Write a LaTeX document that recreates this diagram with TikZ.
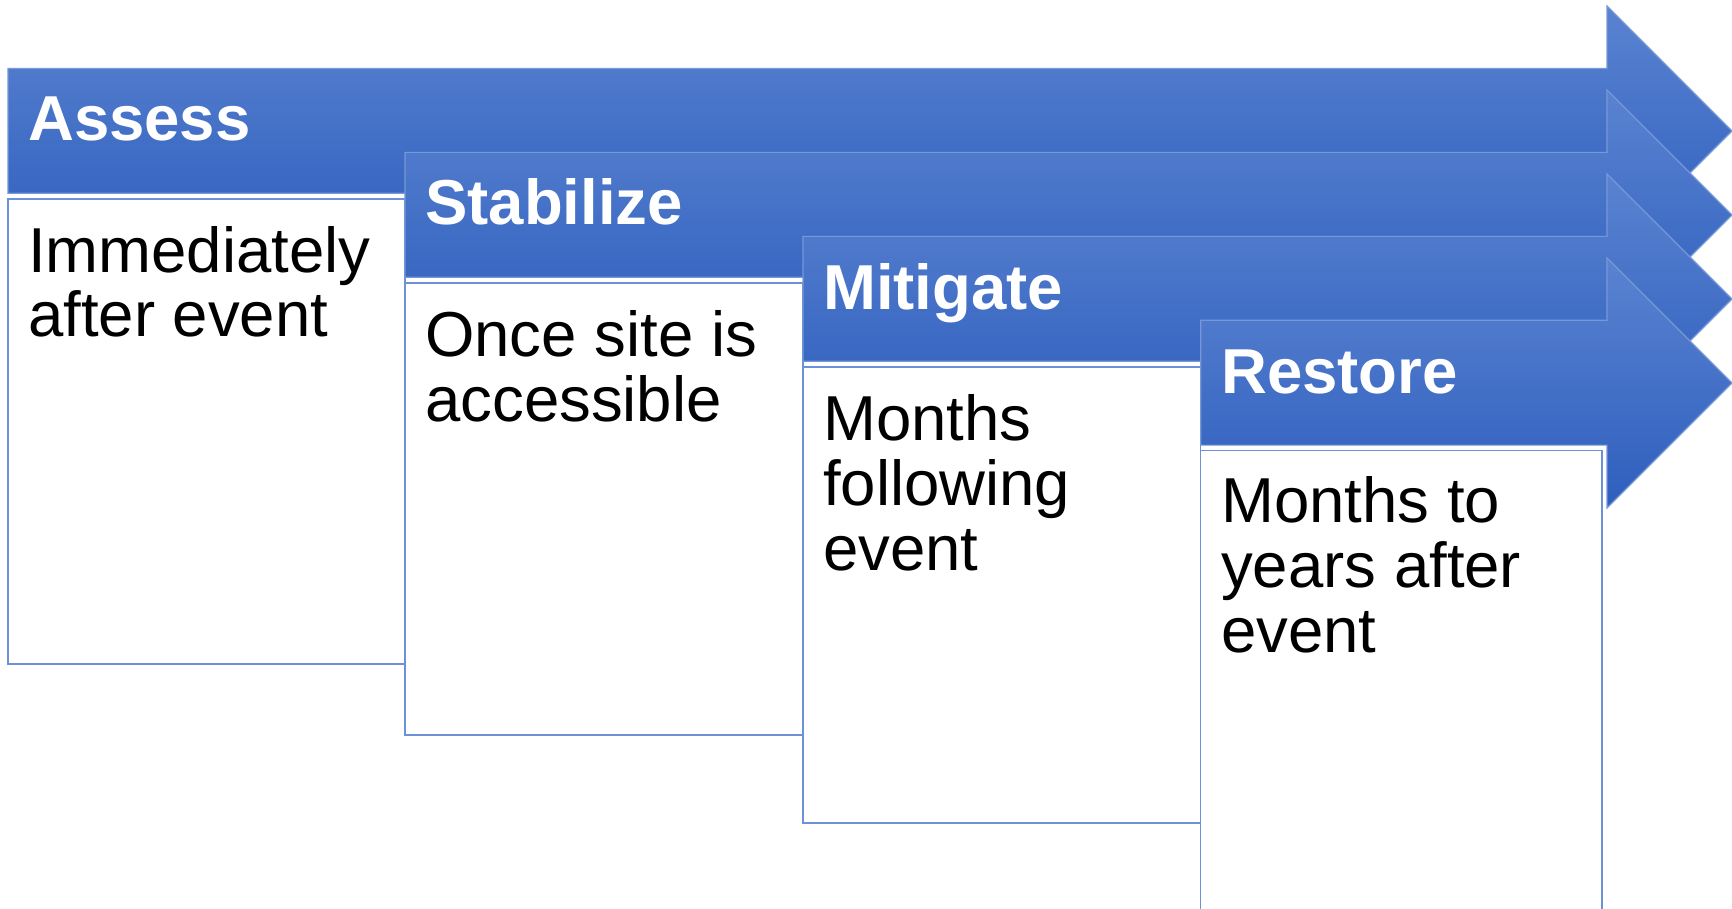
\documentclass[tikz,border=0pt]{standalone}
\usepackage{fontspec}
\setmainfont{Liberation Sans}
\definecolor{arrtop}{RGB}{90,131,209}
\definecolor{arrbot}{RGB}{46,94,189}
\definecolor{arredge}{RGB}{118,152,214}
\definecolor{boxedge}{RGB}{108,145,216}
\tikzset{
  phase/.style={top color=arrtop, bottom color=arrbot, draw=arredge, line width=1.2pt},
  detail/.style={fill=white, draw=boxedge, line width=1.3pt},
  headtxt/.style={anchor=base west, inner sep=0pt, text=white, font=\fontsize{63.5}{65}\selectfont\bfseries},
  bodytxt/.style={anchor=base west, inner sep=0pt, text=black, align=left, font=\fontsize{63.5}{65}\selectfont}
}
\begin{document}
\begin{tikzpicture}[x=1pt,y=-1pt]
\useasboundingbox (0,0) rectangle (1732,909);
% Assess
\path[phase] (8,68.5) -- (1607,68.5) -- (1607,6) -- (1732,131) -- (1607,256) -- (1607,193.3) -- (8,193.3) -- cycle;
\path[detail] (8,199) rectangle (405,664);
\node[headtxt] (h1) at (28,141) {Assess};
\node[bodytxt] (b1) at (28,337) {Immediately\\after event};
% Stabilize
\path[phase] (405,152.4) -- (1607,152.4) -- (1607,90) -- (1732,215) -- (1607,340) -- (1607,277.2) -- (405,277.2) -- cycle;
\path[detail] (405,283) rectangle (803,735);
\node[headtxt] (h2) at (425,225) {Stabilize};
\node[bodytxt] (b2) at (425,421) {Once site is\\accessible};
% Mitigate
\path[phase] (803,236.4) -- (1607,236.4) -- (1607,174) -- (1732,299) -- (1607,424) -- (1607,361.2) -- (803,361.2) -- cycle;
\path[detail] (803,367) rectangle (1200.7,823);
\node[headtxt] (h3) at (823,309) {Mitigate};
\node[bodytxt] (b3) at (823,570) {Months\\following\\event};
% Restore
\path[phase] (1200.7,320.3) -- (1607,320.3) -- (1607,258) -- (1732,383) -- (1607,508) -- (1607,445.1) -- (1200.7,445.1) -- cycle;
\path[detail] (1200.7,450.5) rectangle (1602,915);
\node[headtxt] (h4) at (1221,393) {Restore};
\node[bodytxt] (b4) at (1221,652) {Months to\\years after\\event};
\end{tikzpicture}
\end{document}
